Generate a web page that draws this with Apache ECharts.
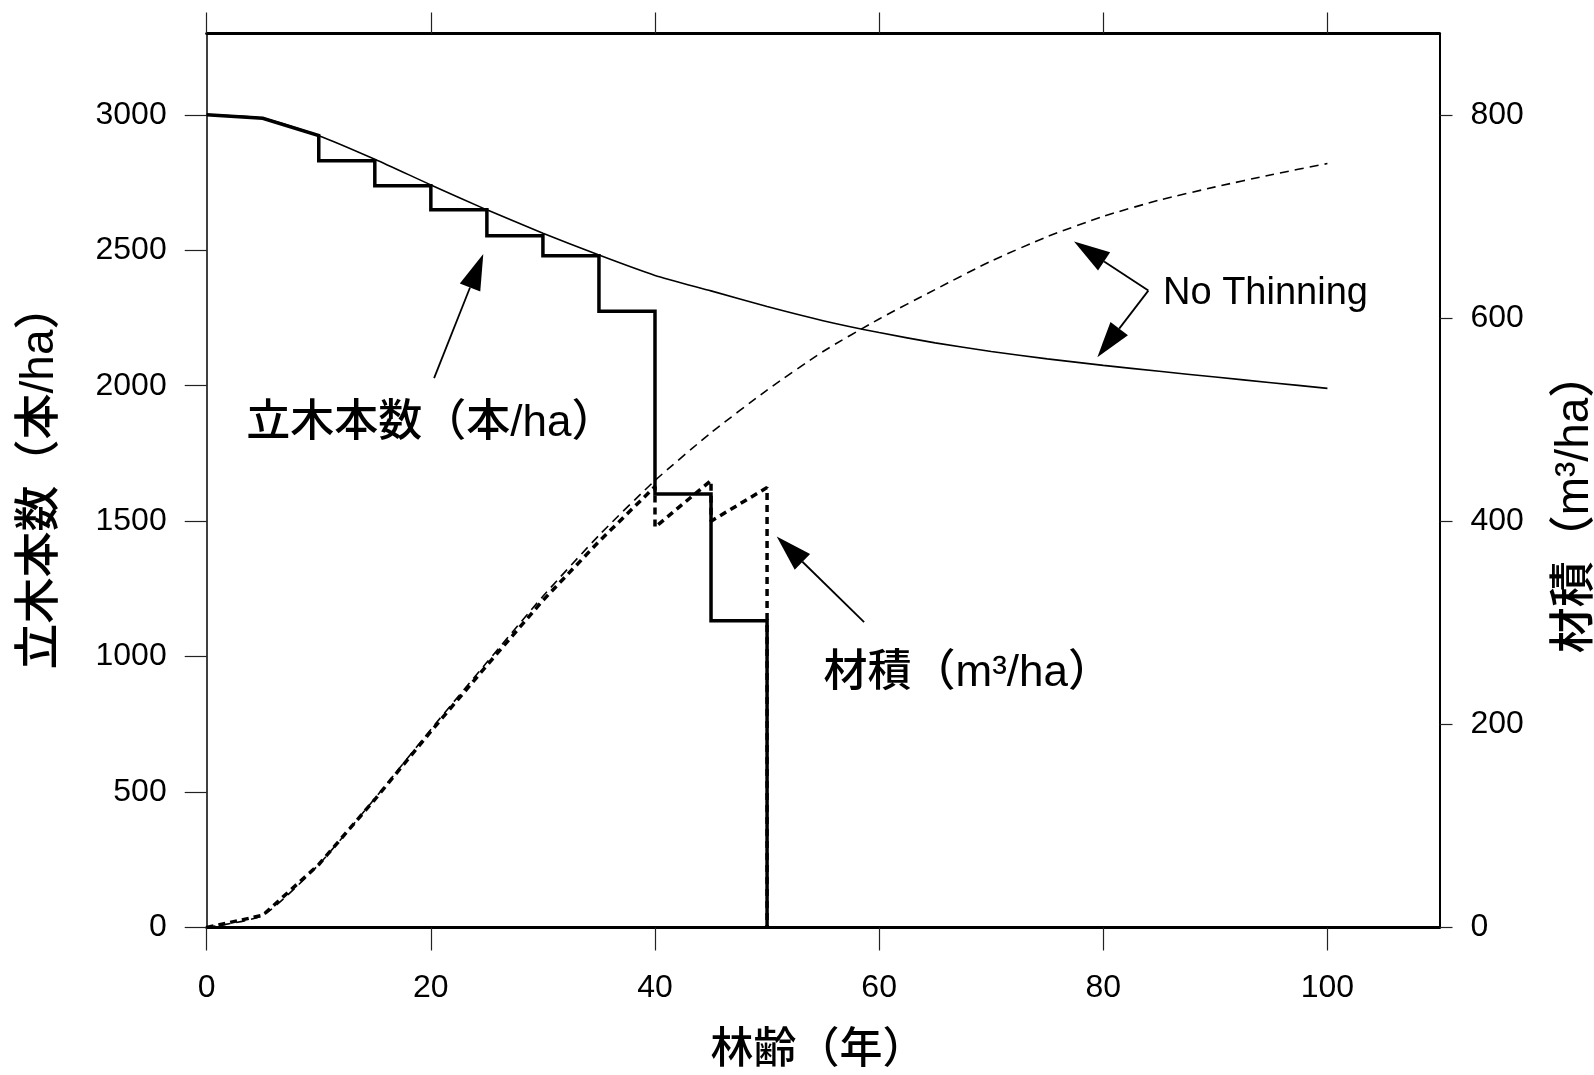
<!DOCTYPE html>
<html>
<head>
<meta charset="utf-8">
<script src="https://cdn.jsdelivr.net/npm/echarts@6/dist/echarts.min.js"></script>
<style>html,body{margin:0;padding:0;background:#fff}#c{width:1594px;height:1075px}</style>
</head>
<body>
<div id="c"></div>
<script>
// ---- data ----
const ages = [0,5,10,15,20,25,30,35,40,45,50,55,60,65,70,75,80,85,90,95,100];
const noThinStems = [3000,2987,2923,2836,2741,2649,2563,2482,2407,2350,2292,2240,2196,2158,2126,2099,2075,2053,2032,2011,1990];
const noThinVolume = [0,12,62,127,195,261,326,386,440,487,529,567,599,628,656,680,700,716,729,741,752];
const thinStemAges = [0,5,10,10,15,15,20,20,25,25,30,30,35,35,40,40,45,45,50,50];
const thinStems = [3000,2987,2923,2830,2830,2738,2738,2649,2649,2553,2553,2480,2480,2275,2275,1600,1600,1132,1132,0];
const thinVolAges = [0,5,10,15,20,25,30,35,40,40,45,45,50,50];
const thinVolume = [0,12,62,126,193,258,322,380,434,394,440,400,433,0];
const xTicks = [0,20,40,60,80,100];
const leftTicks = [0,500,1000,1500,2000,2500,3000];
const rightTicks = [0,200,400,600,800];
const xTitle = '林齢（年）';
const leftTitle = '立木本数（本/ha）';
const rightTitle = '材積（m³/ha）';
// annotations in data coordinates (age, stems)
const annoTexts = ['立木本数（本/ha）', '材積（m³/ha）', 'No Thinning'];
const annoAt = [[3.53, 1860], [55.04, 935], [85.33, 2340]];
const arrowFrom = [[20.29, 2028], [58.66, 1127], [84.02, 2351], [84.02, 2351]];
const arrowTo = [[24.68, 2486], [50.86, 1443], [77.39, 2532], [79.47, 2105]];

const pairs = (xs, ys) => xs.map((x, i) => [x, ys[i]]);
const LAT = "'Liberation Sans', Arial, 'Noto Sans CJK JP', sans-serif";
const plain = v => String(v);

const chart = echarts.init(document.getElementById('c'), null, {renderer: 'canvas'});
const tickStyle = {color: '#222', width: 1.2};
const labelStyle = {fontSize: 32, fontFamily: LAT, color: '#000', formatter: plain};
const option = {
  animation: false,
  backgroundColor: '#fff',
  grid: {left: 206.7, right: 154.5, top: 33.5, bottom: 147.5, containLabel: false, outerBoundsMode: 'none'},
  xAxis: [
    {
      type: 'value', position: 'bottom', min: 0, max: 110, interval: 20,
      name: xTitle, nameLocation: 'middle', nameGap: 102,
      nameTextStyle: {fontSize: 43, fontWeight: 500, fontFamily: LAT, color: '#000', padding: [0, 10, 0, 0]},
      axisLine: {show: true, onZero: false, lineStyle: {color: '#000', width: 3}},
      axisTick: {show: true, inside: false, length: 23, lineStyle: tickStyle, customValues: xTicks},
      axisLabel: Object.assign({show: true, margin: 45, customValues: xTicks}, labelStyle),
      splitLine: {show: false}
    },
    {
      type: 'value', position: 'top', min: 0, max: 110, interval: 20,
      axisLine: {show: true, onZero: false, lineStyle: {color: '#000', width: 3}},
      axisTick: {show: true, inside: false, length: 21, lineStyle: tickStyle, customValues: xTicks},
      axisLabel: {show: false},
      splitLine: {show: false}
    }
  ],
  yAxis: [
    {
      type: 'value', position: 'left', min: 0, max: 3300, interval: 500,
      name: leftTitle, nameLocation: 'middle', nameGap: 143,
      nameTextStyle: {fontSize: 46, fontWeight: 500, fontFamily: LAT, color: '#000', padding: [0, 0, 0, 8]},
      axisLine: {show: true, onZero: false, lineStyle: {color: '#000', width: 1.5}},
      axisTick: {show: true, inside: false, length: 22, lineStyle: tickStyle, customValues: leftTicks},
      axisLabel: Object.assign({show: true, margin: 40, customValues: leftTicks}, labelStyle),
      splitLine: {show: false}
    },
    {
      type: 'value', position: 'right', min: 0, max: 880, interval: 200,
      name: rightTitle, nameLocation: 'middle', nameGap: 113,
      nameTextStyle: {fontSize: 46, fontWeight: 500, fontFamily: LAT, color: '#000', padding: [0, 44, 0, 0]},
      axisLine: {show: true, onZero: false, lineStyle: {color: '#000', width: 2}},
      axisTick: {show: true, inside: false, length: 13, lineStyle: tickStyle, customValues: rightTicks},
      axisLabel: Object.assign({show: true, margin: 31, customValues: rightTicks}, labelStyle),
      splitLine: {show: false}
    }
  ],
  series: [
    {
      name: 'No Thinning stems', type: 'line', xAxisIndex: 0, yAxisIndex: 0,
      data: pairs(ages, noThinStems), showSymbol: false, symbol: 'none', smooth: 0.2,
      lineStyle: {color: '#000', width: 1.6}, z: 2
    },
    {
      name: 'No Thinning volume', type: 'line', xAxisIndex: 0, yAxisIndex: 1,
      data: pairs(ages, noThinVolume), showSymbol: false, symbol: 'none', smooth: 0.2,
      lineStyle: {color: '#000', width: 1.6, type: [9, 6]}, z: 2
    },
    {
      name: 'Thinned stems', type: 'line', xAxisIndex: 0, yAxisIndex: 0,
      data: pairs(thinStemAges, thinStems), showSymbol: false, symbol: 'none',
      lineStyle: {color: '#000', width: 3.5, join: 'miter'}, z: 3
    },
    {
      name: 'Thinned volume', type: 'line', xAxisIndex: 0, yAxisIndex: 1,
      data: pairs(thinVolAges, thinVolume), showSymbol: false, symbol: 'none',
      lineStyle: {color: '#000', width: 3.5, type: [7, 5]}, z: 4
    }
  ]
};
chart.setOption(option);

function toPx(p) { return chart.convertToPixel({xAxisIndex: 0, yAxisIndex: 0}, p); }
const graphics = [];
const headLen = 36, headW = 22;
arrowFrom.forEach((f, i) => {
  const p0 = toPx(f), p1 = toPx(arrowTo[i]);
  const dx = p1[0] - p0[0], dy = p1[1] - p0[1], L = Math.hypot(dx, dy);
  const ux = dx / L, uy = dy / L;
  const bx = p1[0] - ux * headLen, by = p1[1] - uy * headLen;
  const nx = -uy, ny = ux;
  graphics.push({type: 'line', silent: true, shape: {x1: p0[0], y1: p0[1], x2: bx, y2: by},
    style: {stroke: '#000', lineWidth: 1.8}, z: 10});
  graphics.push({type: 'polygon', silent: true,
    shape: {points: [[p1[0], p1[1]], [bx + nx * headW / 2, by + ny * headW / 2], [bx - nx * headW / 2, by - ny * headW / 2]]},
    style: {fill: '#000'}, z: 10});
});
const annoSizes = [44, 44, 38];
annoTexts.forEach((t, i) => {
  const p = toPx(annoAt[i]);
  graphics.push({type: 'text', silent: true, x: p[0], y: p[1], z: 10,
    style: {text: t, fontSize: annoSizes[i], fontWeight: i < 2 ? 500 : 'normal', fontFamily: LAT, fill: '#000', align: 'left', verticalAlign: 'middle'}});
});
chart.setOption({graphic: graphics});
</script>
</body>
</html>
